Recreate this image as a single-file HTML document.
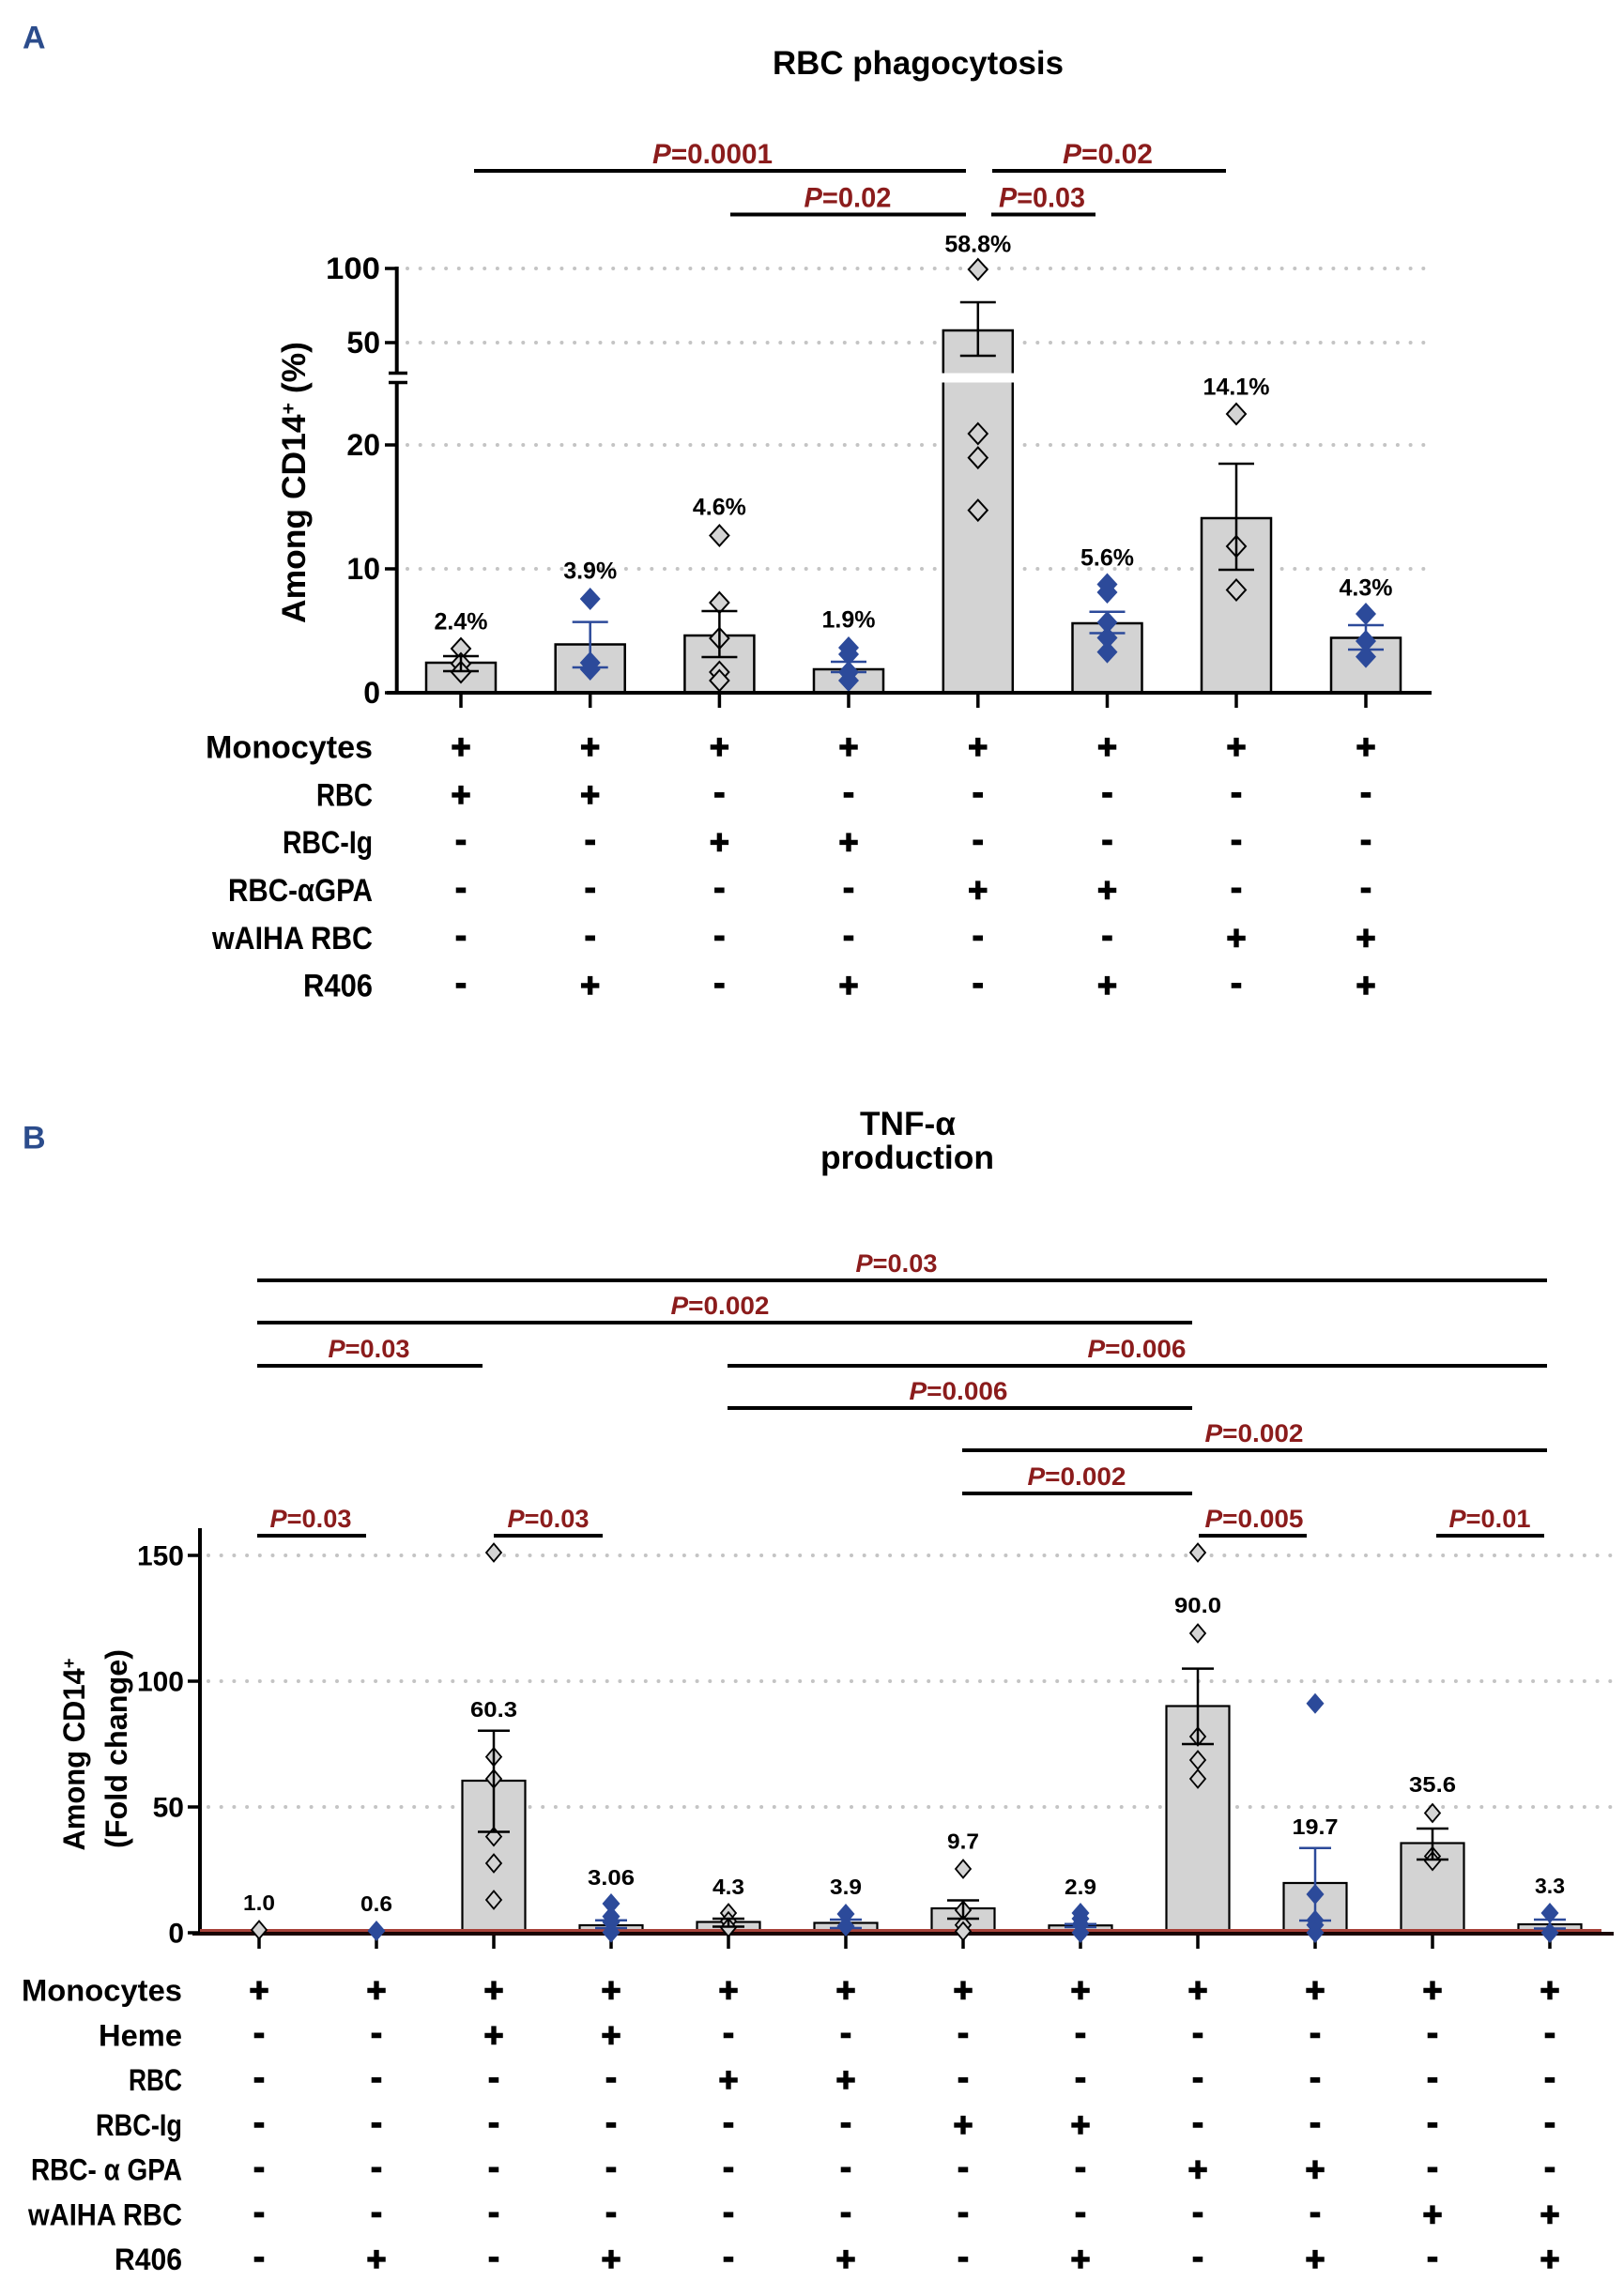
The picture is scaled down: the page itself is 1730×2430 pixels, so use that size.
<!DOCTYPE html>
<html><head><meta charset="utf-8"><style>
html,body{margin:0;padding:0;background:#fff}
svg{display:block}
text{font-family:"Liberation Sans",Arial,sans-serif;font-weight:bold}
</style></head><body>
<svg width="1730" height="2430" viewBox="0 0 1730 2430" xmlns="http://www.w3.org/2000/svg">
<defs>
<path id="oa" d="M0,-11L10,0L0,11L-10,0Z" fill="#d4d4d4" stroke="#000" stroke-width="2"/>
<path id="ba" d="M0,-12L11,0L0,12L-11,0Z" fill="#2c4a9a"/>
<path id="ob" d="M0,-9.5L8,0L0,9.5L-8,0Z" fill="#d4d4d4" stroke="#000" stroke-width="1.8"/>
<path id="bb" d="M0,-11L9.5,0L0,11L-9.5,0Z" fill="#2c4a9a"/>
</defs>
<rect width="1730" height="2430" fill="#fff"/>

<!-- ================= PANEL A ================= -->
<text x="24" y="51.5" font-size="34" fill="#2b4c8c">A</text>
<text x="978" y="79" font-size="35" text-anchor="middle" textLength="310" lengthAdjust="spacingAndGlyphs">RBC phagocytosis</text>

<g stroke="#000" stroke-width="4" fill="none">
<path d="M505,182H1029M1057,182H1306M778,228.5H1029M1056,228.5H1167"/>
</g>
<g font-size="30" fill="#8b1c1c" text-anchor="middle">
<text x="759" y="174" textLength="128" lengthAdjust="spacingAndGlyphs"><tspan font-style="italic">P</tspan>=0.0001</text>
<text x="1180" y="174" textLength="96" lengthAdjust="spacingAndGlyphs"><tspan font-style="italic">P</tspan>=0.02</text>
<text x="903" y="220.5" textLength="93" lengthAdjust="spacingAndGlyphs"><tspan font-style="italic">P</tspan>=0.02</text>
<text x="1110" y="220.5" textLength="92" lengthAdjust="spacingAndGlyphs"><tspan font-style="italic">P</tspan>=0.03</text>
</g>

<g stroke="#c4c4c4" stroke-width="4" stroke-dasharray="0 13.7" stroke-linecap="round">
<path d="M434,286H1521M434,365H1521M434,474H1521M434,606H1521"/>
</g>

<g fill="#d3d3d3" stroke="#000" stroke-width="2.5">
<rect x="454" y="706" width="74" height="32"/>
<rect x="591.7" y="686.5" width="74" height="51.5"/>
<rect x="729.4" y="677" width="74" height="61"/>
<rect x="867" y="713" width="74" height="25"/>
<rect x="1004.8" y="352" width="74" height="386"/>
<rect x="1142.5" y="664" width="74" height="74"/>
<rect x="1280" y="552" width="74" height="186"/>
<rect x="1418" y="679.5" width="74" height="58.5"/>
</g>
<rect x="1000" y="397.5" width="84" height="10" fill="#fff"/>

<use href="#oa" x="491" y="691"/><use href="#oa" x="491" y="707"/><use href="#oa" x="491" y="716"/>
<use href="#ba" x="628.7" y="638"/><use href="#ba" x="628.7" y="706"/><use href="#ba" x="628.7" y="713"/>
<use href="#oa" x="766.4" y="570.5"/><use href="#oa" x="766.4" y="642"/><use href="#oa" x="766.4" y="680"/><use href="#oa" x="766.4" y="716"/><use href="#oa" x="766.4" y="725"/>
<use href="#ba" x="904" y="690"/><use href="#ba" x="904" y="697"/><use href="#ba" x="904" y="716"/><use href="#ba" x="904" y="725"/>
<use href="#oa" x="1041.8" y="287"/><use href="#oa" x="1041.8" y="462"/><use href="#oa" x="1041.8" y="487.6"/><use href="#oa" x="1041.8" y="543.6"/>
<use href="#ba" x="1179.5" y="622.5"/><use href="#ba" x="1179.5" y="631"/><use href="#ba" x="1179.5" y="663"/><use href="#ba" x="1179.5" y="679.5"/><use href="#ba" x="1179.5" y="694.6"/>
<use href="#oa" x="1317" y="441"/><use href="#oa" x="1317" y="582"/><use href="#oa" x="1317" y="628.5"/>
<use href="#ba" x="1455" y="654"/><use href="#ba" x="1455" y="683"/><use href="#ba" x="1455" y="699.6"/>

<g fill="none" stroke-width="2.5">
<path stroke="#000" d="M472,699H510M491,699V715M472,715H510"/>
<path stroke="#2c4a9a" d="M609.7,662.6H647.7M628.7,662.6V711M609.7,711H647.7"/>
<path stroke="#000" d="M747.4,651H785.4M766.4,651V700M747.4,700H785.4"/>
<path stroke="#2c4a9a" d="M885,705H923M904,705V716M885,716H923"/>
<path stroke="#000" d="M1022.8,322H1060.8M1041.8,322V379M1022.8,379H1060.8"/>
<path stroke="#2c4a9a" d="M1160.5,651.7H1198.5M1179.5,651.7V674.5M1160.5,674.5H1198.5"/>
<path stroke="#000" d="M1298,494H1336M1317,494V607M1298,607H1336"/>
<path stroke="#2c4a9a" d="M1436,666H1474M1455,666V692M1436,692H1474"/>
</g>

<g stroke="#000" fill="none">
<path stroke-width="4" d="M422.7,284V397.5M422.7,407.5V740M412,738H1525"/>
<path stroke-width="3.5" d="M414,397.5H434M414,407.5H434"/>
<path stroke-width="3.5" d="M410,286H423M410,365H423M410,474H423M410,606H423M410,738H423"/>
<path stroke-width="3.5" d="M491,740V754M628.7,740V754M766.4,740V754M904,740V754M1041.8,740V754M1179.5,740V754M1317,740V754M1455,740V754"/>
</g>
<g font-size="32" text-anchor="end">
<text x="405" y="297" textLength="58" lengthAdjust="spacingAndGlyphs">100</text>
<text x="405" y="376">50</text>
<text x="405" y="485">20</text>
<text x="405" y="617">10</text>
<text x="405" y="749">0</text>
</g>
<text transform="translate(325,514) rotate(-90)" font-size="35" text-anchor="middle" textLength="300" lengthAdjust="spacingAndGlyphs">Among CD14<tspan baseline-shift="super" font-size="21">+</tspan> (%)</text>

<g font-size="25" text-anchor="middle">
<text x="491" y="670.5">2.4%</text>
<text x="628.7" y="616.5">3.9%</text>
<text x="766.4" y="548.5">4.6%</text>
<text x="904" y="668.5">1.9%</text>
<text x="1041.8" y="268.5">58.8%</text>
<text x="1179.5" y="602.5">5.6%</text>
<text x="1317" y="420.5">14.1%</text>
<text x="1455" y="634.5">4.3%</text>
</g>

<g font-size="34" text-anchor="end">
<text x="397" y="807.5" textLength="178" lengthAdjust="spacingAndGlyphs">Monocytes</text>
<text x="397" y="858.3" textLength="60" lengthAdjust="spacingAndGlyphs">RBC</text>
<text x="397" y="909.2" textLength="96" lengthAdjust="spacingAndGlyphs">RBC-Ig</text>
<text x="397" y="960" textLength="154" lengthAdjust="spacingAndGlyphs">RBC-αGPA</text>
<text x="397" y="1010.9" textLength="171" lengthAdjust="spacingAndGlyphs">wAIHA RBC</text>
<text x="397" y="1061.7" textLength="74" lengthAdjust="spacingAndGlyphs">R406</text>
</g>
<g font-size="36" text-anchor="middle" stroke="#000" stroke-width="1.4">
<text x="491 628.7 766.4 904 1041.8 1179.5 1317 1455" y="808 808 808 808 808 808 808 808">++++++++</text>
<text x="491 628.7 766.4 904 1041.8 1179.5 1317 1455" y="858.8 858.8 855.8 855.8 855.8 855.8 855.8 855.8">++------</text>
<text x="491 628.7 766.4 904 1041.8 1179.5 1317 1455" y="906.7 906.7 909.7 909.7 906.7 906.7 906.7 906.7">--++----</text>
<text x="491 628.7 766.4 904 1041.8 1179.5 1317 1455" y="957.5 957.5 957.5 957.5 960.5 960.5 957.5 957.5">----++--</text>
<text x="491 628.7 766.4 904 1041.8 1179.5 1317 1455" y="1008.4 1008.4 1008.4 1008.4 1008.4 1008.4 1011.4 1011.4">------++</text>
<text x="491 628.7 766.4 904 1041.8 1179.5 1317 1455" y="1059.2 1062.2 1059.2 1062.2 1059.2 1062.2 1059.2 1062.2">-+-+-+-+</text>
</g>

<!-- ================= PANEL B ================= -->
<text x="24" y="1223.5" font-size="34" fill="#2b4c8c">B</text>
<text x="967" y="1209" font-size="35" text-anchor="middle" textLength="102" lengthAdjust="spacingAndGlyphs">TNF-α</text>
<text x="966.5" y="1245" font-size="35" text-anchor="middle" textLength="185" lengthAdjust="spacingAndGlyphs">production</text>

<g stroke="#000" stroke-width="4" fill="none">
<path d="M274,1364H1648M274,1409H1270M274,1455H514M775,1455H1648M775,1500H1270M1025,1545H1648M1025,1591H1270M274,1636H390M526,1636H642M1277,1636H1392M1530,1636H1645"/>
</g>
<g font-size="27" fill="#8b1c1c" text-anchor="middle">
<text x="955" y="1355" textLength="87" lengthAdjust="spacingAndGlyphs"><tspan font-style="italic">P</tspan>=0.03</text>
<text x="767" y="1400" textLength="105" lengthAdjust="spacingAndGlyphs"><tspan font-style="italic">P</tspan>=0.002</text>
<text x="393" y="1446" textLength="87" lengthAdjust="spacingAndGlyphs"><tspan font-style="italic">P</tspan>=0.03</text>
<text x="1211" y="1446" textLength="105" lengthAdjust="spacingAndGlyphs"><tspan font-style="italic">P</tspan>=0.006</text>
<text x="1021" y="1491" textLength="105" lengthAdjust="spacingAndGlyphs"><tspan font-style="italic">P</tspan>=0.006</text>
<text x="1336" y="1536" textLength="105" lengthAdjust="spacingAndGlyphs"><tspan font-style="italic">P</tspan>=0.002</text>
<text x="1147" y="1582" textLength="105" lengthAdjust="spacingAndGlyphs"><tspan font-style="italic">P</tspan>=0.002</text>
<text x="331" y="1627" textLength="87" lengthAdjust="spacingAndGlyphs"><tspan font-style="italic">P</tspan>=0.03</text>
<text x="584" y="1627" textLength="87" lengthAdjust="spacingAndGlyphs"><tspan font-style="italic">P</tspan>=0.03</text>
<text x="1336" y="1627" textLength="105" lengthAdjust="spacingAndGlyphs"><tspan font-style="italic">P</tspan>=0.005</text>
<text x="1587" y="1627" textLength="87" lengthAdjust="spacingAndGlyphs"><tspan font-style="italic">P</tspan>=0.01</text>
</g>

<g stroke="#c4c4c4" stroke-width="4" stroke-dasharray="0 13.7" stroke-linecap="round">
<path d="M222,1657H1719M222,1791H1719M222,1925H1719"/>
</g>

<g fill="#d3d3d3" stroke="#000" stroke-width="2.2">
<rect x="242.5" y="2056.3" width="67" height="2.7"/>
<rect x="367.5" y="2057.4" width="67" height="1.6"/>
<rect x="492.5" y="1897" width="67" height="162"/>
<rect x="617.5" y="2051" width="67" height="8"/>
<rect x="742.5" y="2047.5" width="67" height="11.5"/>
<rect x="867.5" y="2048.5" width="67" height="10.5"/>
<rect x="992.5" y="2033" width="67" height="26"/>
<rect x="1117.5" y="2051.2" width="67" height="7.8"/>
<rect x="1242.5" y="1817.5" width="67" height="241.5"/>
<rect x="1367.5" y="2006" width="67" height="53"/>
<rect x="1492.5" y="1963.5" width="67" height="95.5"/>
<rect x="1617.5" y="2050" width="67" height="9"/>
</g>

<g stroke="#000" fill="none">
<path stroke-width="4" d="M213,1628V2061"/>
<path stroke-width="4" stroke="#1a0505" d="M205,2060H1719"/>
<path stroke-width="3.5" d="M200,1657H213M200,1791H213M200,1925H213M200,2059H213"/>
<path stroke-width="3.5" d="M276,2062V2076M401,2062V2076M526,2062V2076M651,2062V2076M776,2062V2076M901,2062V2076M1026,2062V2076M1151,2062V2076M1276,2062V2076M1401,2062V2076M1526,2062V2076M1651,2062V2076"/>
</g>
<path d="M213,2056.5H1706" stroke="#a8423a" stroke-width="3"/>

<use href="#ob" x="276" y="2056"/>
<use href="#bb" x="401" y="2057"/>
<use href="#ob" x="526" y="1654"/><use href="#ob" x="526" y="1871.6"/><use href="#ob" x="526" y="1895"/><use href="#ob" x="526" y="1956.6"/><use href="#ob" x="526" y="1985"/><use href="#ob" x="526" y="2024"/>
<use href="#bb" x="651" y="2028"/><use href="#bb" x="651" y="2041.6"/><use href="#bb" x="651" y="2047.7"/><use href="#bb" x="651" y="2058.6"/>
<use href="#ob" x="776" y="2038"/><use href="#ob" x="776" y="2046.7"/><use href="#ob" x="776" y="2053.5"/>
<use href="#bb" x="901" y="2039"/><use href="#bb" x="901" y="2052"/>
<use href="#ob" x="1026" y="1991"/><use href="#ob" x="1026" y="2035"/><use href="#ob" x="1026" y="2050.7"/><use href="#ob" x="1026" y="2057.5"/>
<use href="#bb" x="1151" y="2038"/><use href="#bb" x="1151" y="2044"/><use href="#bb" x="1151" y="2050"/><use href="#bb" x="1151" y="2059"/>
<use href="#ob" x="1276" y="1654"/><use href="#ob" x="1276" y="1740"/><use href="#ob" x="1276" y="1850"/><use href="#ob" x="1276" y="1875"/><use href="#ob" x="1276" y="1895"/>
<use href="#bb" x="1401" y="1814.8"/><use href="#bb" x="1401" y="2018"/><use href="#bb" x="1401" y="2045.6"/><use href="#bb" x="1401" y="2050.7"/><use href="#bb" x="1401" y="2059"/>
<use href="#ob" x="1526" y="1931.5"/><use href="#ob" x="1526" y="1977.5"/><use href="#ob" x="1526" y="1982.6"/>
<use href="#bb" x="1651" y="2038"/><use href="#bb" x="1651" y="2059"/>

<g fill="none" stroke-width="2.5">
<path stroke="#000" d="M509,1843.7H543M526,1843.7V1951.5M509,1951.5H543"/>
<path stroke="#2c4a9a" d="M634,2045.7H668M651,2045.7V2054M634,2054H668"/>
<path stroke="#000" d="M759,2044H793M776,2044V2052.5M759,2052.5H793"/>
<path stroke="#2c4a9a" d="M884,2045H918M901,2045V2054M884,2054H918"/>
<path stroke="#000" d="M1009,2024.5H1043M1026,2024.5V2044M1009,2044H1043"/>
<path stroke="#2c4a9a" d="M1134,2049.7H1168M1151,2049.7V2053M1134,2053H1168"/>
<path stroke="#000" d="M1259,1777.6H1293M1276,1777.6V1858M1259,1858H1293"/>
<path stroke="#2c4a9a" d="M1384,1968.7H1418M1401,1968.7V2046M1384,2046H1418"/>
<path stroke="#000" d="M1509,1948H1543M1526,1948V1981M1509,1981H1543"/>
<path stroke="#2c4a9a" d="M1634,2045H1668M1651,2045V2054.5M1634,2054.5H1668"/>
</g>

<g font-size="30" text-anchor="end">
<text x="196" y="1667.5">150</text>
<text x="196" y="1801.5">100</text>
<text x="196" y="1935.5">50</text>
<text x="196" y="2069.5">0</text>
</g>
<text transform="translate(90,1869) rotate(-90)" font-size="32" text-anchor="middle" textLength="205" lengthAdjust="spacingAndGlyphs">Among CD14<tspan baseline-shift="super" font-size="19">+</tspan></text>
<text transform="translate(135,1863) rotate(-90)" font-size="32" text-anchor="middle" textLength="212" lengthAdjust="spacingAndGlyphs">(Fold change)</text>

<g font-size="23" text-anchor="middle">
<text x="276" y="2035" textLength="34" lengthAdjust="spacingAndGlyphs">1.0</text>
<text x="401" y="2036" textLength="34" lengthAdjust="spacingAndGlyphs">0.6</text>
<text x="526" y="1829" textLength="50" lengthAdjust="spacingAndGlyphs">60.3</text>
<text x="651" y="2008" textLength="50" lengthAdjust="spacingAndGlyphs">3.06</text>
<text x="776" y="2018" textLength="34" lengthAdjust="spacingAndGlyphs">4.3</text>
<text x="901" y="2018" textLength="34" lengthAdjust="spacingAndGlyphs">3.9</text>
<text x="1026" y="1969.5" textLength="34" lengthAdjust="spacingAndGlyphs">9.7</text>
<text x="1151" y="2018" textLength="34" lengthAdjust="spacingAndGlyphs">2.9</text>
<text x="1276" y="1718" textLength="50" lengthAdjust="spacingAndGlyphs">90.0</text>
<text x="1401" y="1954" textLength="49" lengthAdjust="spacingAndGlyphs">19.7</text>
<text x="1526" y="1909" textLength="50" lengthAdjust="spacingAndGlyphs">35.6</text>
<text x="1651" y="2017" textLength="32" lengthAdjust="spacingAndGlyphs">3.3</text>
</g>

<g font-size="32" text-anchor="end">
<text x="194" y="2131.5" textLength="171" lengthAdjust="spacingAndGlyphs">Monocytes</text>
<text x="194" y="2179.25" textLength="89" lengthAdjust="spacingAndGlyphs">Heme</text>
<text x="194" y="2227" textLength="57" lengthAdjust="spacingAndGlyphs">RBC</text>
<text x="194" y="2274.75" textLength="92" lengthAdjust="spacingAndGlyphs">RBC-Ig</text>
<text x="194" y="2322.5" textLength="161" lengthAdjust="spacingAndGlyphs">RBC- α GPA</text>
<text x="194" y="2370.25" textLength="164" lengthAdjust="spacingAndGlyphs">wAIHA RBC</text>
<text x="194" y="2418" textLength="72" lengthAdjust="spacingAndGlyphs">R406</text>
</g>
<g font-size="36" text-anchor="middle" stroke="#000" stroke-width="1.4">
<text x="276 401 526 651 776 901 1026 1151 1276 1401 1526 1651" y="2132.5 2132.5 2132.5 2132.5 2132.5 2132.5 2132.5 2132.5 2132.5 2132.5 2132.5 2132.5">++++++++++++</text>
<text x="276 401 526 651 776 901 1026 1151 1276 1401 1526 1651" y="2177.25 2177.25 2180.25 2180.25 2177.25 2177.25 2177.25 2177.25 2177.25 2177.25 2177.25 2177.25">--++--------</text>
<text x="276 401 526 651 776 901 1026 1151 1276 1401 1526 1651" y="2225 2225 2225 2225 2228 2228 2225 2225 2225 2225 2225 2225">----++------</text>
<text x="276 401 526 651 776 901 1026 1151 1276 1401 1526 1651" y="2272.75 2272.75 2272.75 2272.75 2272.75 2272.75 2275.75 2275.75 2272.75 2272.75 2272.75 2272.75">------++----</text>
<text x="276 401 526 651 776 901 1026 1151 1276 1401 1526 1651" y="2320.5 2320.5 2320.5 2320.5 2320.5 2320.5 2320.5 2320.5 2323.5 2323.5 2320.5 2320.5">--------++--</text>
<text x="276 401 526 651 776 901 1026 1151 1276 1401 1526 1651" y="2368.25 2368.25 2368.25 2368.25 2368.25 2368.25 2368.25 2368.25 2368.25 2368.25 2371.25 2371.25">----------++</text>
<text x="276 401 526 651 776 901 1026 1151 1276 1401 1526 1651" y="2416 2419 2416 2419 2416 2419 2416 2419 2416 2419 2416 2419">-+-+-+-+-+-+</text>
</g>
</svg>
</body></html>
